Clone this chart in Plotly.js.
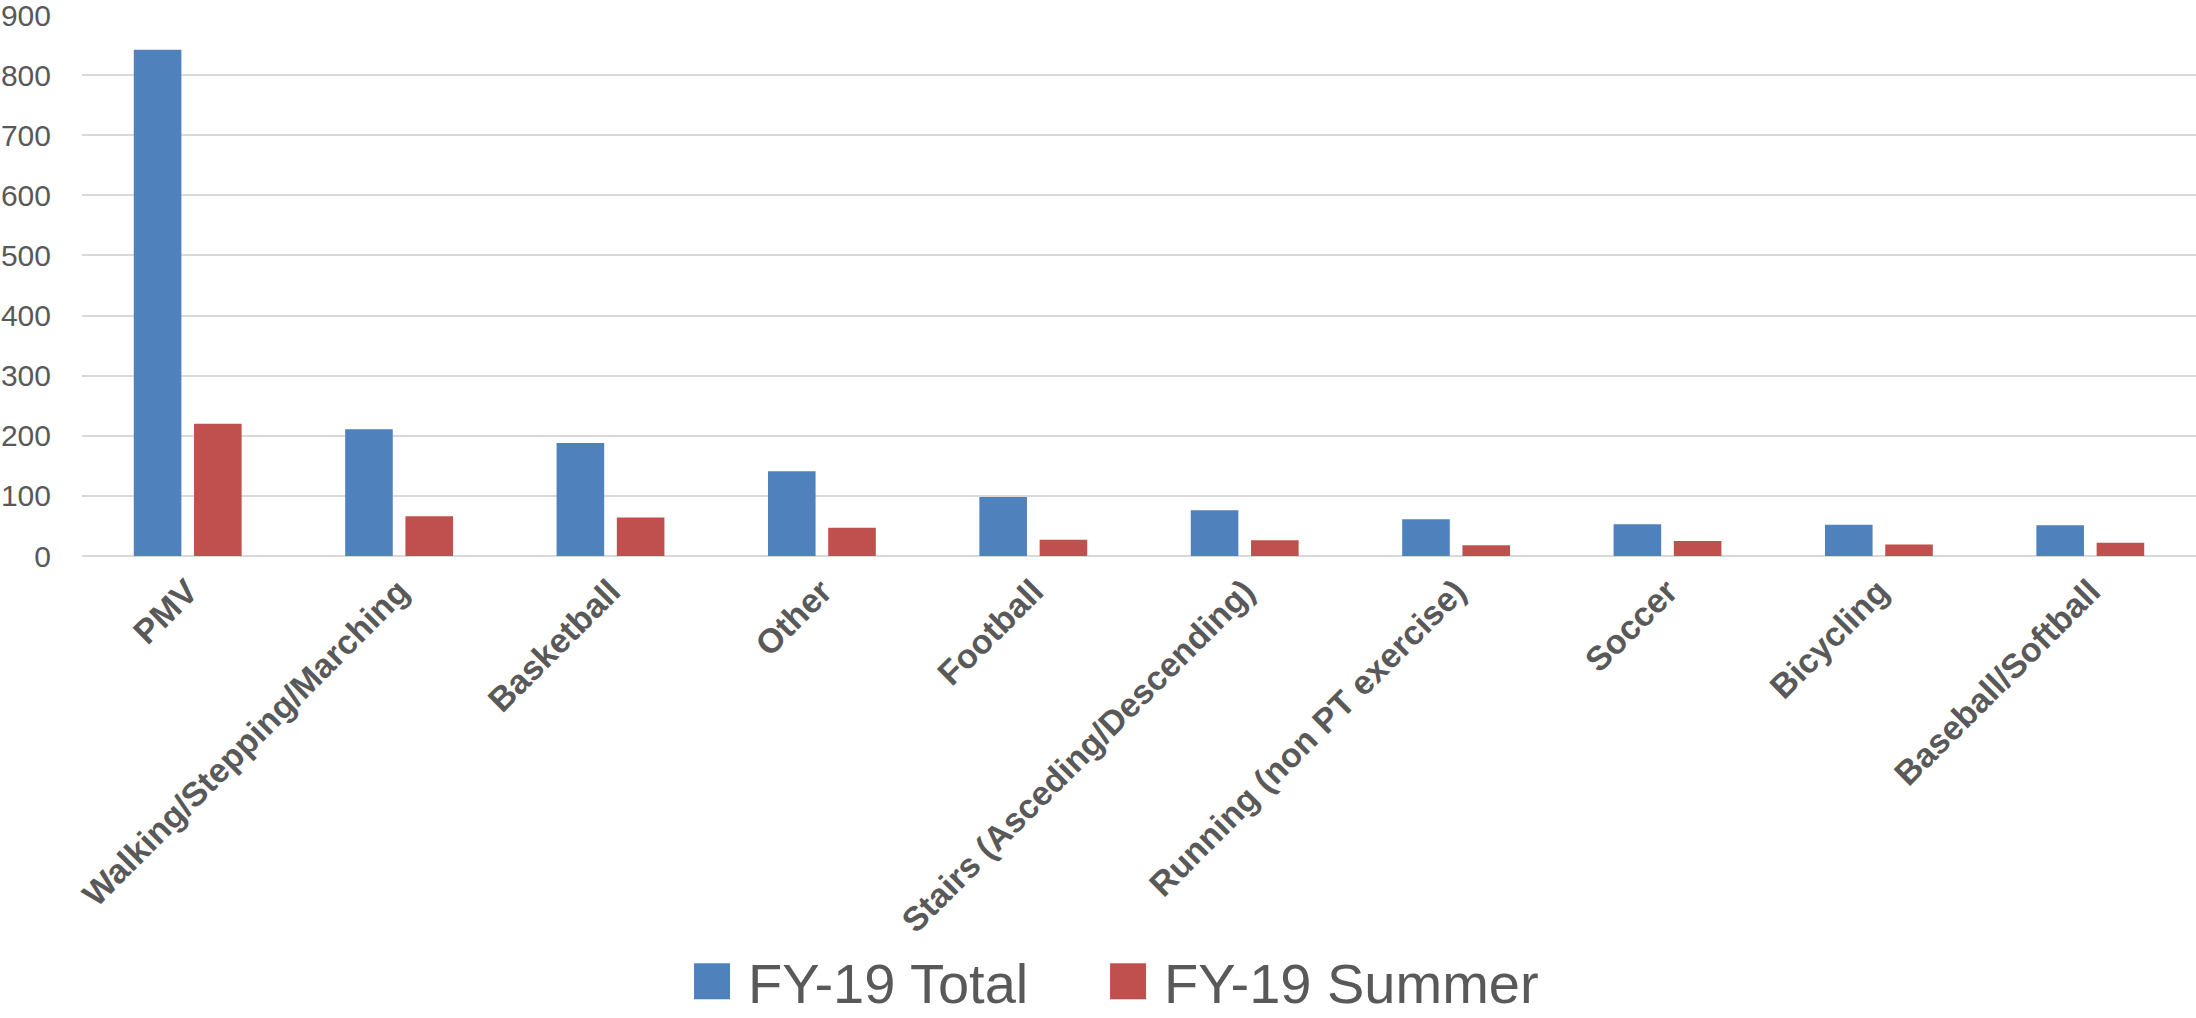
<!DOCTYPE html>
<html>
<head>
<meta charset="utf-8">
<script src="https://cdn.plot.ly/plotly-3.0.1.min.js"></script>
<style>
  html, body { margin: 0; padding: 0; background: #ffffff; }
  #chart { width: 2196px; height: 1018px; }
</style>
</head>
<body>
<div id="chart"></div>
<script>
const categories = [
  "PMV",
  "Walking/Stepping/Marching",
  "Basketball",
  "Other",
  "Football",
  "Stairs (Asceding/Descending)",
  "Running (non PT exercise)",
  "Soccer",
  "Bicycling",
  "Baseball/Softball"
];
const fy19Total  = [842, 211, 188, 141, 98, 76, 61, 53, 52, 51];
const fy19Summer = [220, 66, 64, 47, 27, 26, 18, 25, 19, 22];
const yTickVals  = [0, 100, 200, 300, 400, 500, 600, 700, 800, 900];
const seriesNames = ["FY-19 Total", "FY-19 Summer"];

const traces = [
  { type: "bar", name: seriesNames[0], x: categories, y: fy19Total, legend: "legend",
    marker: { color: "#4F81BD", line: { width: 0 } }, hoverinfo: "x+y" },
  { type: "bar", name: seriesNames[1], x: categories, y: fy19Summer, legend: "legend2",
    marker: { color: "#C0504D", line: { width: 0 } }, hoverinfo: "x+y" }
];

const legendFont = { family: "Liberation Sans, Arial, sans-serif", size: 56, color: "#595959" };

const layout = {
  width: 2196, height: 1018,
  margin: { l: 82, r: 0, t: 15, b: 462, pad: 0, autoexpand: false },
  paper_bgcolor: "#ffffff", plot_bgcolor: "#ffffff",
  barmode: "group", bargap: 0.43, bargroupgap: 0.21,
  font: { family: "Liberation Sans, Arial, sans-serif", color: "#595959" },
  xaxis: {
    type: "category", tickangle: -45, showgrid: false, zeroline: false,
    showline: false, ticks: "outside", ticklen: 1, tickcolor: "rgba(0,0,0,0)",
    tickfont: { family: "Liberation Sans, Arial, sans-serif", size: 34, color: "#595959", weight: "bold" },
    automargin: false
  },
  yaxis: {
    range: [0, 900.01], tickvals: yTickVals, showgrid: true, gridcolor: "#D9D9D9", gridwidth: 2,
    zeroline: true, zerolinecolor: "#D9D9D9", zerolinewidth: 2, showline: false,
    ticks: "outside", ticklen: 24, tickcolor: "rgba(0,0,0,0)", ticklabeloverflow: "allow",
    tickfont: { family: "Liberation Sans, Arial, sans-serif", size: 30, color: "#595959" },
    automargin: false
  },
  showlegend: true,
  legend: {
    orientation: "h", x: 0.281, xanchor: "left", y: -0.786, yanchor: "middle",
    itemwidth: 62, borderwidth: 0, bgcolor: "rgba(0,0,0,0)", font: legendFont,
    itemclick: false, itemdoubleclick: false
  },
  legend2: {
    orientation: "h", x: 0.4778, xanchor: "left", y: -0.786, yanchor: "middle",
    itemwidth: 62, borderwidth: 0, bgcolor: "rgba(0,0,0,0)", font: legendFont,
    itemclick: false, itemdoubleclick: false
  }
};

Plotly.newPlot("chart", traces, layout, { displayModeBar: false, staticPlot: true }).then(function (gd) {
  // enlarge legend swatches to match the reference's big square keys
  gd.querySelectorAll("g.legendpoints path").forEach(function (p) {
    p.setAttribute("d", "M18,18H-18V-18H18Z");
  });
});
</script>
</body>
</html>
